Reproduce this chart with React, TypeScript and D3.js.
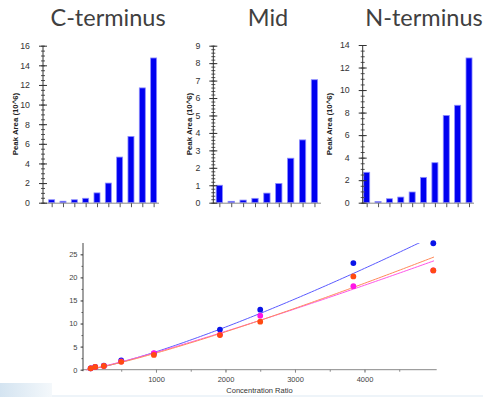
import { useEffect, useRef } from 'react';
import * as d3 from 'd3';

// Bar panels (Peak Area, 10^6)
const panelTitles = ['C-terminus', 'Mid', 'N-terminus'];
const cTerminus = [0.3, 0.15, 0.3, 0.45, 1.0, 2.0, 4.65, 6.75, 11.7, 14.75];
const midValues = [1.0, 0.08, 0.15, 0.25, 0.55, 1.1, 2.55, 3.6, 7.05];
const nTerminus = [2.7, 0.1, 0.35, 0.5, 0.95, 2.25, 3.55, 7.75, 8.65, 12.85];
const panelMax = [16, 9, 14];
const majorStep = [2, 1, 2];
const minorStep = [0.5, 0.2, 0.5];

// Calibration panel
const concRatio = [60, 125, 250, 500, 970, 1920, 2500, 3840, 4990];
const blueArea = [0.3, 0.6, 0.9, 2.0, 3.5, 8.7, 13.0, 23.1, 27.4];
const magentaArea = [0.3, 0.6, 0.8, 1.8, 3.6, 7.6, 11.7, 18.1, 21.5];
const orangeArea = [0.3, 0.6, 0.8, 1.7, 3.2, 7.5, 10.4, 20.2, 21.5];
// power fits y = a * x^b
const fitA = [6.9e-4, 1.432e-3, 9.68e-4];
const fitB = [1.25, 1.14, 1.19];
const xTicks = [1000, 2000, 3000, 4000];
const yTicks = [0, 5, 10, 15, 20, 25];

const W = 483;
const H = 397;

export default function App() {
  const svgRef = useRef<SVGSVGElement>(null);

  useEffect(() => {
    if (!svgRef.current) return;
    const svg = d3.select(svgRef.current);
    svg.selectAll('*').remove();

    // background bits
    const defs = svg.append('defs');
    const grad = defs.append('linearGradient').attr('id', 'bg-grad')
      .attr('x1', 0).attr('x2', 1).attr('y1', 0).attr('y2', 0);
    grad.append('stop').attr('offset', '0%').attr('stop-color', '#d4e4f1');
    grad.append('stop').attr('offset', '100%').attr('stop-color', '#f4f8fb');
    svg.append('rect').attr('width', W).attr('height', H).attr('fill', '#fff');
    svg.append('rect').attr('x', 0).attr('y', 383).attr('width', 52).attr('height', 14).attr('fill', 'url(#bg-grad)');
    svg.append('rect').attr('x', 52).attr('y', 395).attr('width', W - 52).attr('height', 2).attr('fill', '#eef4f9');

    defs.append('clipPath').attr('id', 'plot-clip')
      .append('rect').attr('x', 83).attr('y', 243).attr('width', 354).attr('height', 128);

    const panels = [
      { data: cTerminus, axisX: 43, band: [46, 159.3], end: 159, titleX: 108, labelX: 15.5, top: 45.7 },
      { data: midValues, axisX: 213.3, band: [213.4, 320.4], end: 321, titleX: 268, labelX: 189, top: 45.7 },
      { data: nTerminus, axisX: 362.7, band: [361, 474.7], end: 474, titleX: 424, labelX: 329, top: 45 }
    ];
    const bottom = 202.7;
    const arial = 'Arial, "Liberation Sans", sans-serif';

    panels.forEach((p, i) => {
      const g = svg.append('g');
      const x = d3.scaleBand<number>()
        .domain(d3.range(p.data.length))
        .range(p.band as [number, number])
        .paddingInner(0.47)
        .paddingOuter(0.235);
      const y = d3.scaleLinear().domain([0, panelMax[i]]).range([bottom, p.top]);

      // title
      g.append('text')
        .attr('x', p.titleX).attr('y', 26)
        .attr('text-anchor', 'middle')
        .attr('font-family', 'Lato, "Open Sans", sans-serif')
        .attr('font-size', 23.5)
        .attr('fill', '#404040')
        .text(panelTitles[i]);

      // bars
      g.selectAll('rect.bar')
        .data(p.data)
        .join('rect')
        .attr('class', 'bar')
        .attr('x', (_, j) => x(j) || 0)
        .attr('y', d => y(d))
        .attr('width', x.bandwidth())
        .attr('height', d => bottom - y(d))
        .attr('fill', '#0000f0')
        .attr('stroke', '#8c8cff')
        .attr('stroke-width', 0.8);

      // x axis
      g.append('line')
        .attr('x1', p.axisX).attr('x2', p.end)
        .attr('y1', bottom + 0.5).attr('y2', bottom + 0.5)
        .attr('stroke', '#8a8a8a');
      g.append('g')
        .attr('transform', `translate(0, ${bottom + 0.5})`)
        .call(d3.axisBottom(d3.scalePoint<number>().domain(d3.range(p.data.length))
          .range([(x(0) || 0) + x.bandwidth() / 2, (x(p.data.length - 1) || 0) + x.bandwidth() / 2]))
          .tickSize(4).tickFormat(() => ''))
        .call(s => s.select('.domain').remove())
        .call(s => s.selectAll('line').attr('stroke', '#555'));

      // y axis minor ticks
      const minor = d3.range(0, panelMax[i] + 1e-6, minorStep[i]);
      g.append('g')
        .attr('transform', `translate(${p.axisX}, 0)`)
        .call(d3.axisLeft(y).tickValues(minor).tickSize(2).tickFormat(() => ''))
        .call(s => s.select('.domain').remove())
        .call(s => s.selectAll('line').attr('x1', 2).attr('stroke', '#555'));

      // y axis major
      const major = d3.range(0, panelMax[i] + 1e-6, majorStep[i]);
      g.append('g')
        .attr('transform', `translate(${p.axisX}, 0)`)
        .call(d3.axisLeft(y).tickValues(major).tickSize(4).tickPadding(9).tickFormat(d3.format('d')))
        .call(s => s.select('.domain').attr('d', `M0,${p.top}V${bottom + 1}`).attr('stroke', '#333'))
        .call(s => s.selectAll('line').attr('x1', 4).attr('stroke', '#333'))
        .call(s => s.selectAll('text')
          .attr('font-family', arial)
          .attr('font-size', 8.8)
          .attr('fill', '#333'));

      // y label
      g.append('text')
        .attr('transform', `translate(${p.labelX}, 124) rotate(-90)`)
        .attr('text-anchor', 'middle')
        .attr('dy', '0.35em')
        .attr('font-family', arial)
        .attr('font-size', 7.8)
        .attr('font-weight', 'bold')
        .attr('fill', '#222')
        .text('Peak Area (10^6)');
    });

    // Calibration plot
    const left = 83;
    const right = 436.7;
    const base = 369.7;
    const top = 243;
    const x = d3.scaleLinear().domain([-50, 5039]).range([left, right]);
    const y = d3.scaleLinear().domain([0, 27.45]).range([base, top]);
    const c = svg.append('g');

    const font = 'Segoe UI, "Liberation Sans", Arial, sans-serif';

    // x axis
    c.append('g')
      .attr('transform', `translate(0, ${base})`)
      .call(d3.axisBottom(x).tickValues(d3.range(500, 5000, 500)).tickSize(2).tickFormat(() => ''))
      .call(s => s.select('.domain').attr('d', `M${left},0H${right}`).attr('stroke', '#888'))
      .call(s => s.selectAll('line').attr('stroke', '#888'));
    c.append('g')
      .attr('transform', `translate(0, ${base})`)
      .call(d3.axisBottom(x).tickValues(xTicks).tickSize(3).tickPadding(4).tickFormat(d3.format('d')))
      .call(s => s.select('.domain').remove())
      .call(s => s.selectAll('line').attr('stroke', '#888'))
      .call(s => s.selectAll('text').attr('font-family', font).attr('font-size', 7.5).attr('fill', '#444'));

    // y axis
    c.append('g')
      .attr('transform', `translate(${left}, 0)`)
      .call(d3.axisLeft(y).tickValues(d3.range(0, 27.5, 2.5)).tickSize(1.5).tickFormat(() => ''))
      .call(s => s.select('.domain').attr('d', `M0,${top}V${base + 1.5}`).attr('stroke', '#444'))
      .call(s => s.selectAll('line').attr('stroke', '#555'));
    c.append('g')
      .attr('transform', `translate(${left}, 0)`)
      .call(d3.axisLeft(y).tickValues(yTicks).tickSize(2.5).tickPadding(3).tickFormat(d3.format('d')))
      .call(s => s.select('.domain').remove())
      .call(s => s.selectAll('line').attr('stroke', '#555'))
      .call(s => s.selectAll('text').attr('font-family', font).attr('font-size', 7.5).attr('fill', '#444'));

    c.append('text')
      .attr('x', 259.5).attr('y', 393)
      .attr('text-anchor', 'middle')
      .attr('font-family', font)
      .attr('font-size', 7.5)
      .attr('fill', '#333')
      .text('Concentration Ratio');

    // fit curves
    const plot = c.append('g').attr('clip-path', 'url(#plot-clip)');
    const lineColors = ['#5a5aff', '#ff55e8', '#ff8a5a'];
    const xs = d3.range(0, 5040, 40);
    fitA.forEach((a, k) => {
      const line = d3.line<number>()
        .x(v => x(v))
        .y(v => y(a * Math.pow(v, fitB[k])));
      plot.append('path')
        .attr('d', line(xs) || '')
        .attr('fill', 'none')
        .attr('stroke', lineColors[k])
        .attr('stroke-width', 1);
    });

    // points
    const series = [
      { vals: blueArea, color: '#0a14e8' },
      { vals: magentaArea, color: '#ff14e6' },
      { vals: orangeArea, color: '#ff4a12' }
    ];
    series.forEach(sr => {
      c.append('g').selectAll('circle')
        .data(sr.vals)
        .join('circle')
        .attr('cx', (_, j) => x(concRatio[j]))
        .attr('cy', d => y(d))
        .attr('r', 2.9)
        .attr('fill', sr.color);
    });
  }, []);

  return (
    <svg
      ref={svgRef}
      width={W}
      height={H}
      style={{ position: 'absolute', left: 0, top: 0, display: 'block' }}
    />
  );
}
